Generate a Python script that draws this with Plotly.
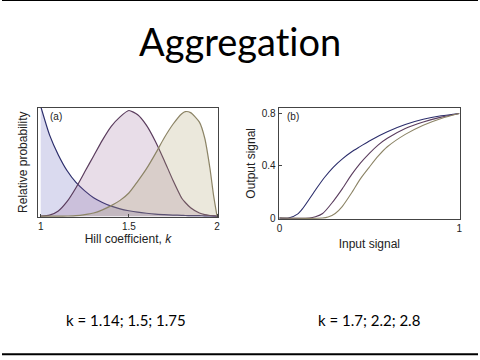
import plotly.graph_objects as go

# ---- Panel (a): distributions of Hill coefficient ----
k_vals = [1.0, 1.05, 1.1, 1.15, 1.2, 1.25, 1.3, 1.35, 1.4, 1.45, 1.5, 1.55, 1.6,
          1.65, 1.7, 1.75, 1.8, 1.82, 1.85, 1.9, 1.93, 1.96, 1.98, 2.0]
p_blue = [1.04, 0.77, 0.58, 0.43, 0.32, 0.24, 0.175, 0.13, 0.095, 0.07, 0.052, 0.038, 0.028,
          0.02, 0.015, 0.011, 0.008, 0.007, 0.006, 0.005, 0.004, 0.003, 0.003, 0.002]
p_purple = [0.0, 0.01, 0.05, 0.14, 0.27, 0.42, 0.57, 0.72, 0.85, 0.94, 1.0, 0.96, 0.86,
            0.71, 0.53, 0.34, 0.17, 0.13, 0.08, 0.03, 0.015, 0.007, 0.003, 0.0]
p_olive = [0.0, 0.0, 0.0, 0.002, 0.005, 0.015, 0.03, 0.06, 0.10, 0.15, 0.22, 0.33, 0.45,
           0.59, 0.74, 0.87, 0.97, 0.99, 0.98, 0.89, 0.74, 0.45, 0.2, 0.0]

# ---- Panel (b): input/output curves ----
in_blue = [0.0, 0.05, 0.1, 0.13, 0.2, 0.25, 0.3, 0.35, 0.4, 0.45, 0.5, 0.6, 0.7, 0.8, 0.9, 1.0]
out_blue = [0.0, 0.0, 0.03, 0.075, 0.215, 0.31, 0.39, 0.453, 0.505, 0.548, 0.59, 0.66, 0.715, 0.755, 0.782, 0.8]
in_purple = [0.0, 0.166, 0.2, 0.24, 0.3, 0.35, 0.4, 0.45, 0.5, 0.55, 0.6, 0.7, 0.8, 0.9, 1.0]
out_purple = [0.0, 0.0, 0.01, 0.035, 0.13, 0.225, 0.33, 0.42, 0.495, 0.56, 0.61, 0.685, 0.735, 0.772, 0.8]
in_olive = [0.0, 0.239, 0.27, 0.31, 0.35, 0.4, 0.45, 0.5, 0.55, 0.6, 0.7, 0.8, 0.9, 1.0]
out_olive = [0.0, 0.0, 0.008, 0.035, 0.09, 0.19, 0.30, 0.39, 0.475, 0.545, 0.64, 0.71, 0.762, 0.8]

title_text = "Aggregation"
caption_a = "k = 1.14; 1.5; 1.75"
caption_b = "k = 1.7; 2.2; 2.8"

c_blue, c_purple, c_olive = "#2b2d6b", "#5b3d5e", "#8c8466"
f_blue = "rgba(120,120,195,0.27)"
f_purple = "rgba(150,100,150,0.22)"
f_olive = "rgba(170,160,110,0.24)"

fig = go.Figure()
for y, lc, fc in [(p_blue, c_blue, f_blue), (p_purple, c_purple, f_purple), (p_olive, c_olive, f_olive)]:
    fig.add_trace(go.Scatter(x=k_vals, y=y, mode="lines", fill="tozeroy", fillcolor=fc,
                             line=dict(color=lc, width=1.2, shape="spline", smoothing=0.6),
                             xaxis="x", yaxis="y", showlegend=False, hoverinfo="skip"))
for x, y, lc in [(in_blue, out_blue, c_blue), (in_purple, out_purple, c_purple), (in_olive, out_olive, c_olive)]:
    fig.add_trace(go.Scatter(x=x, y=y, mode="lines",
                             line=dict(color=lc, width=1.1, shape="spline", smoothing=0.8),
                             xaxis="x2", yaxis="y2", showlegend=False, hoverinfo="skip"))

axfont = dict(family="Liberation Sans, Arial", size=10, color="#222")
ttlfont = dict(family="Liberation Sans, Arial", size=12, color="#222")
common = dict(showline=True, mirror=True, linecolor="#444", linewidth=1, showgrid=False,
              zeroline=False, ticks="inside", ticklen=3, tickcolor="#444", tickfont=axfont)

fig.update_layout(
    width=480, height=360, margin=dict(l=0, r=0, t=0, b=0),
    paper_bgcolor="white", plot_bgcolor="white",
    xaxis=dict(domain=[0.075, 0.454], range=[0.983, 2.006], tickvals=[1, 1.5, 2],
               ticktext=["1", "1.5", "2"], anchor="y",
               title=dict(text="Hill coefficient, <i>k</i>", font=ttlfont, standoff=1), **common),
    yaxis=dict(domain=[0.389, 0.697], range=[-0.0065, 1.028], showticklabels=False, anchor="x",
               title=dict(text="Relative probability", font=ttlfont, standoff=6),
               **{k: v for k, v in common.items() if k not in ("ticks",)}, ticks=""),
    xaxis2=dict(domain=[0.581, 0.9625], range=[-0.0055, 1.0055], tickvals=[0, 1],
                ticktext=["0", "1"], anchor="y2",
                title=dict(text="Input signal", font=ttlfont, standoff=6), **common),
    yaxis2=dict(domain=[0.383, 0.697], range=[-0.0075, 0.845], tickvals=[0, 0.4, 0.8],
                ticktext=["0", "0.4", "0.8"], anchor="x2",
                title=dict(text="Output signal", font=ttlfont, standoff=3), **common),
    annotations=[
        dict(text='<span style="font-variant-ligatures:none;font-feature-settings:\'liga\' 0">'
                  + title_text + "</span>",
             x=0.5, y=1 - 42 / 360, xref="paper", yref="paper", showarrow=False,
             font=dict(family="Lato", size=38, color="black"), xanchor="center", yanchor="middle"),
        dict(text=caption_a, x=125 / 480, y=1 - 325 / 360, xref="paper", yref="paper", showarrow=False,
             font=dict(family="Lato", size=15, color="black"), xanchor="center", yanchor="middle"),
        dict(text=caption_b, x=370 / 480, y=1 - 325 / 360, xref="paper", yref="paper", showarrow=False,
             font=dict(family="Lato", size=15, color="black"), xanchor="center", yanchor="middle"),
        dict(text="(a)", x=1.04, y=1.01, xref="x", yref="y", showarrow=False,
             font=dict(family="Liberation Sans, Arial", size=10, color="#222"), xanchor="left", yanchor="top"),
        dict(text="(b)", x=0.03, y=0.835, xref="x2", yref="y2", showarrow=False,
             font=dict(family="Liberation Sans, Arial", size=10, color="#222"), xanchor="left", yanchor="top"),
    ],
    shapes=[
        dict(type="line", xref="paper", yref="paper", x0=0, x1=1, y0=1, y1=1, line=dict(color="black", width=2)),
        dict(type="line", xref="paper", yref="paper", x0=0, x1=1, y0=0.002, y1=0.002, line=dict(color="black", width=2)),
    ],
)

fig.write_html("out.html")
